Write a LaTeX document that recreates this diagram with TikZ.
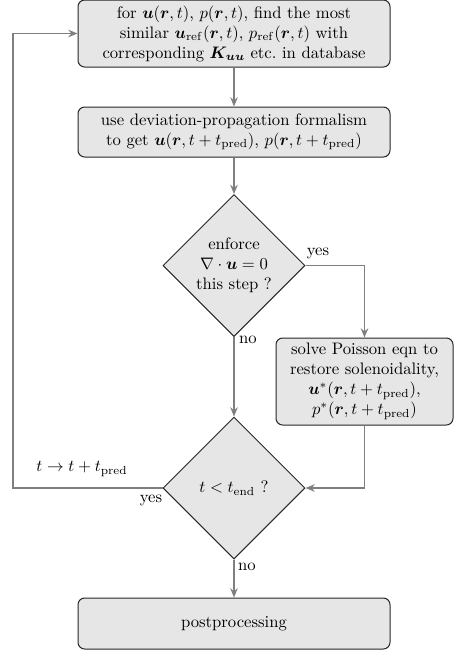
\documentclass[tikz,border=0pt]{standalone}
\usepackage{amsmath}
\usepackage{bm}
\usetikzlibrary{shapes.geometric,arrows.meta}
\definecolor{boxfill}{HTML}{E6E6E6}
\definecolor{linegray}{HTML}{7F7F7F}
\tikzset{
  procbox/.style={draw=black!85, line width=0.6pt, fill=boxfill, rounded corners=4pt,
    align=center, inner sep=0pt},
  decision/.style={draw=black!85, line width=0.6pt, fill=boxfill, diamond, aspect=1,
    align=center, inner sep=0pt, minimum width=85.2pt, minimum height=85.2pt},
  flow/.style={draw=linegray, line width=0.95pt, -{Stealth[length=5.5pt,width=4.5pt]}},
  lbl/.style={inner sep=1pt}
}
\begin{document}
\begin{tikzpicture}[x=0.6pt,y=-0.6pt]
\useasboundingbox (0,0) rectangle (458,650);
\node[procbox, minimum width=187.2pt, minimum height=40.2pt] (top) at (234,33.5)
  {for $\bm u(\bm r,t)$, $p(\bm r,t)$, find the most\\
   similar $\bm u_{\mathrm{ref}}(\bm r,t)$, $p_{\mathrm{ref}}(\bm r,t)$ with\\
   corresponding $\bm K_{\bm u\bm u}$ etc.\ in database};
\node[procbox, minimum width=187.2pt, minimum height=30pt] (dev) at (234,132)
  {use deviation-propagation formalism\\
   to get $\bm u(\bm r,t+t_{\mathrm{pred}})$, $p(\bm r,t+t_{\mathrm{pred}})$};
\node[decision] (enf) at (234,265.5)
  {enforce\\ $\nabla\cdot\bm u=0$\\ this step ?};
\node[procbox, minimum width=106.2pt, minimum height=52.2pt] (pois) at (364.5,381.5)
  {solve Poisson eqn to\\ restore solenoidality,\\
   $\bm u^{*}(\bm r,t+t_{\mathrm{pred}})$,\\ $p^{*}(\bm r,t+t_{\mathrm{pred}})$};
\node[decision] (tend) at (234,488) {$t<t_{\mathrm{end}}$ ?};
\node[procbox, minimum width=187.2pt, minimum height=30.6pt] (post) at (234,623.5)
  {postprocessing};
\coordinate (loopc) at (13,488);
\draw[flow] (top) -- (dev);
\draw[flow] (dev) -- (enf);
\draw[flow] (enf.east) -| (pois.north);
\draw[flow] (enf.south) -- (tend.north);
\draw[flow] (pois.south) |- (tend.east);
\draw[flow] (tend.west) -- (loopc) |- (top.west);
\draw[flow] (tend.south) -- (post.north);
\node[lbl] (lyes1) at (318,253) {yes};
\node[lbl] (lno1) at (248,340) {no};
\node[lbl] (lloop) at (82,469) {$t\to t+t_{\mathrm{pred}}$};
\node[lbl] (lyes2) at (151,500) {yes};
\node[lbl] (lno2) at (247,567) {no};
\end{tikzpicture}
\end{document}
